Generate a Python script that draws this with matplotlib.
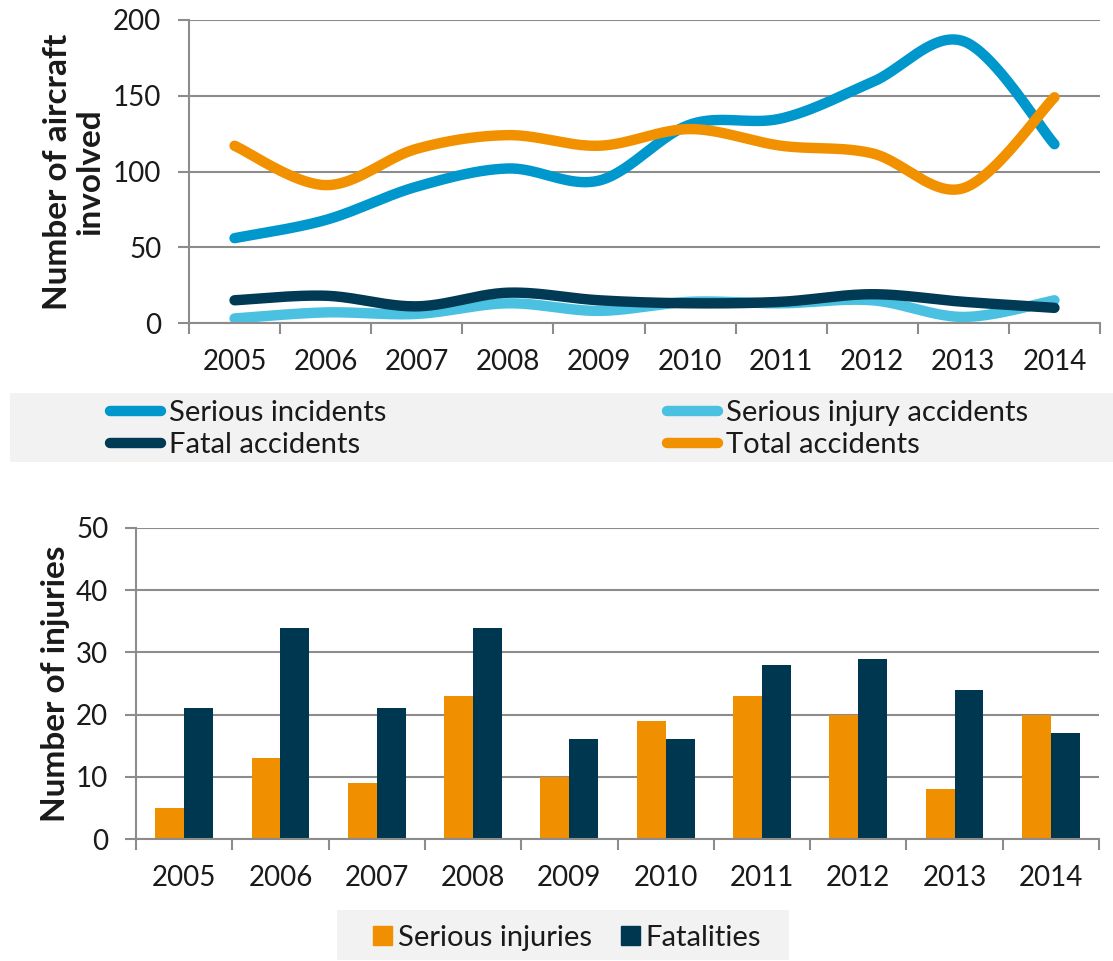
import numpy as np
import matplotlib
matplotlib.use("Agg")
import matplotlib.pyplot as plt
from matplotlib.lines import Line2D
from matplotlib.patches import Rectangle, Patch

plt.rcParams['font.family'] = ['Lato', 'DejaVu Sans']

years = ['2005', '2006', '2007', '2008', '2009', '2010', '2011', '2012', '2013', '2014']
serious_incidents = [56, 68, 90, 102, 94, 131, 135, 159, 186, 118]
serious_injury_accidents = [3, 7, 6, 13, 8, 14, 13, 15, 4, 15]
fatal_accidents = [15, 18, 11, 20, 15, 13, 14, 19, 14, 10]
total_accidents = [117, 91, 115, 124, 117, 128, 117, 112, 89, 149]

serious_injuries = [5, 13, 9, 23, 10, 19, 23, 20, 8, 20]
fatalities = [21, 34, 21, 34, 16, 16, 28, 29, 24, 17]

C_INC = '#0098CC'
C_SIA = '#4BC1E1'
C_FAT = '#003A54'
C_TOT = '#F29100'
C_BAR_O = '#F08F00'
C_BAR_D = '#003750'
GRID = '#8C8C8C'
TXT = '#1A1A1A'


def smooth(x, y, n=40):
    """Excel-like smoothed curve (Catmull-Rom Bezier) through the data points."""
    x = np.asarray(x, float)
    y = np.asarray(y, float)
    P = np.column_stack([x, y])
    out = []
    t = np.linspace(0, 1, n)
    for i in range(len(P) - 1):
        p0 = P[i - 1] if i > 0 else P[i]
        p1 = P[i]
        p2 = P[i + 1]
        p3 = P[i + 2] if i + 2 < len(P) else P[i + 1]
        c1 = p1 + (p2 - p0) / 6.0
        c2 = p2 - (p3 - p1) / 6.0
        seg = ((1 - t)[:, None] ** 3 * p1 + 3 * ((1 - t) ** 2 * t)[:, None] * c1
               + 3 * ((1 - t) * t ** 2)[:, None] * c2 + (t ** 3)[:, None] * p2)
        out.append(seg if i == 0 else seg[1:])
    s = np.vstack(out)
    return s[:, 0], s[:, 1]


fig = plt.figure(figsize=(11.13, 9.61), dpi=100)
W, H = 1113, 961


def fx(px):
    return px / W


def fy(py):
    return 1 - py / H


def style_axes(ax, ymax, ystep):
    n = len(years)
    ax.set_xlim(-0.5, n - 0.5)
    ax.set_ylim(0, ymax)
    ax.set_yticks(np.arange(0, ymax + 1, ystep))
    ax.set_xticks(np.arange(n))
    ax.set_xticklabels(years)
    ax.set_xticks(np.arange(-0.5, n, 1.0), minor=True)
    ax.tick_params(axis='x', which='major', length=0, pad=19, labelsize=20, labelcolor=TXT)
    ax.tick_params(axis='x', which='minor', length=8, width=1.5, color=GRID, direction='out')
    ax.tick_params(axis='y', which='major', length=8, width=1.5, color=GRID, direction='out',
                   pad=12, labelsize=20, labelcolor=TXT)
    ax.grid(axis='y', color=GRID, linewidth=1.5)
    ax.set_axisbelow(True)
    for s in ['top', 'right']:
        ax.spines[s].set_visible(False)
    for s in ['left', 'bottom']:
        ax.spines[s].set_color(GRID)
        ax.spines[s].set_linewidth(1.5)


# ---------------- Top chart ----------------
ax1 = fig.add_axes([fx(189), fy(323), fx(1100 - 189), (323 - 20) / H])
style_axes(ax1, 200, 50)
xs = np.arange(len(years))
lw = 7.5
series = [
    (serious_injury_accidents, C_SIA, 'Serious injury accidents'),
    (fatal_accidents, C_FAT, 'Fatal accidents'),
    (serious_incidents, C_INC, 'Serious incidents'),
    (total_accidents, C_TOT, 'Total accidents'),
]
for vals, col, lab in series:
    sx, sy = smooth(xs, vals)
    ax1.plot(sx, sy, color=col, lw=lw, solid_capstyle='round', solid_joinstyle='round',
             label=lab, clip_on=False)
ax1.set_ylabel('Number of aircraft\ninvolved', fontsize=24, fontweight='bold', color=TXT,
               labelpad=6, linespacing=1.15)

# legend background
fig.patches.append(Rectangle((fx(10), fy(462)), fx(1113 - 10), (462 - 393) / H,
                             transform=fig.transFigure, facecolor='#F2F2F2',
                             edgecolor='none', zorder=0))


def lh(col):
    return Line2D([0], [0], color=col, lw=lw, solid_capstyle='round')


leg_kw = dict(frameon=False, fontsize=21, handlelength=1.75, handletextpad=0.28,
              labelspacing=0.22, borderpad=0, borderaxespad=0, labelcolor=TXT)
fig.legend([lh(C_INC), lh(C_FAT)], ['Serious incidents', 'Fatal accidents'],
           loc='center left', bbox_to_anchor=(fx(110), fy(429)), **leg_kw)
fig.legend([lh(C_SIA), lh(C_TOT)], ['Serious injury accidents', 'Total accidents'],
           loc='center left', bbox_to_anchor=(fx(667), fy(429)), **leg_kw)

# ---------------- Bottom chart ----------------
ax2 = fig.add_axes([fx(136), fy(839), fx(1099 - 136), (839 - 528) / H])
style_axes(ax2, 50, 10)
bw = 0.3
ax2.bar(xs - bw / 2, serious_injuries, width=bw, color=C_BAR_O, label='Serious injuries')
ax2.bar(xs + bw / 2, fatalities, width=bw, color=C_BAR_D, label='Fatalities')
ax2.set_ylabel('Number of injuries', fontsize=24, fontweight='bold', color=TXT, labelpad=4)

fig.patches.append(Rectangle((fx(337), fy(960)), fx(789 - 337), (960 - 910) / H,
                             transform=fig.transFigure, facecolor='#F2F2F2',
                             edgecolor='none', zorder=0))
fig.legend([Patch(color=C_BAR_O), Patch(color=C_BAR_D)], ['Serious injuries', 'Fatalities'],
           loc='center left', bbox_to_anchor=(fx(373), fy(938)), ncol=2, frameon=False,
           fontsize=21, handlelength=0.65, handleheight=0.65, handletextpad=0.2,
           columnspacing=1.0, borderpad=0, borderaxespad=0, labelcolor=TXT)

fig.savefig('out.png', dpi=100)
